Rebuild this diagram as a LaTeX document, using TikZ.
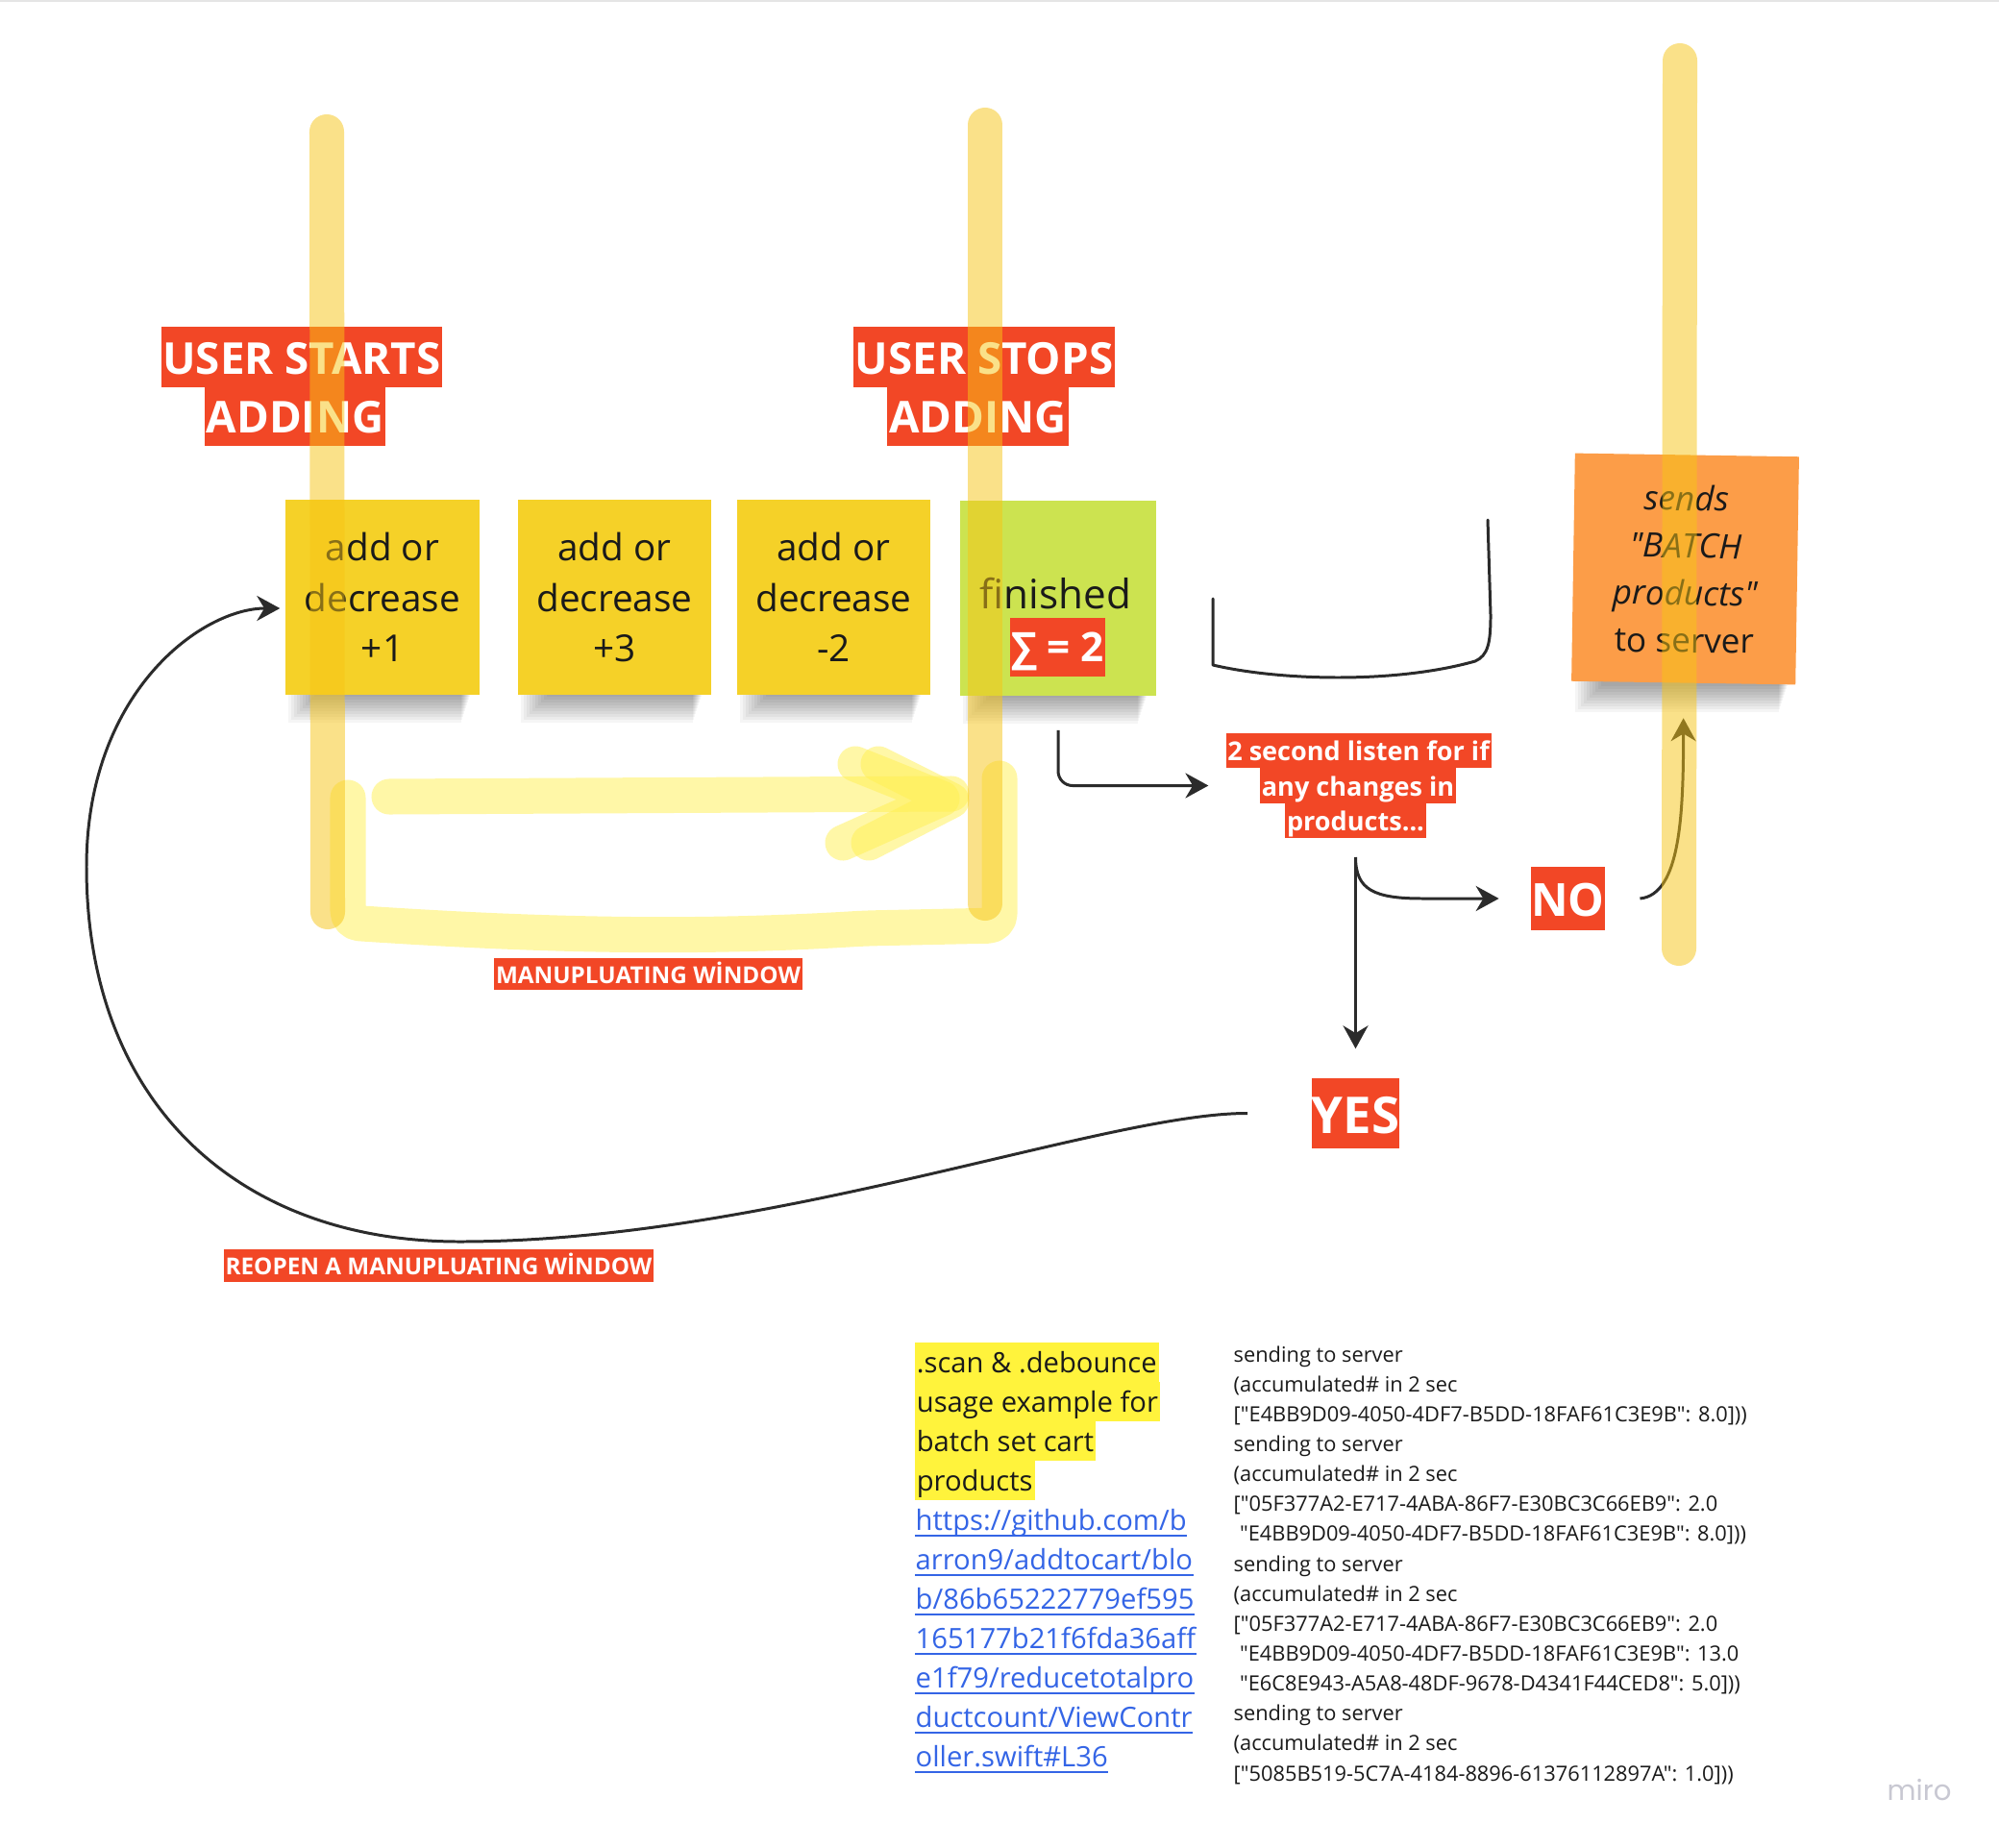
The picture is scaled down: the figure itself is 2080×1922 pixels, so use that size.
\documentclass[tikz,border=0pt]{standalone}
\usepackage{fontspec}
\setmainfont{Open Sans}[Ligatures=TeXOff]
\newfontfamily\mirofont{Poppins}
\usetikzlibrary{arrows.meta}

\definecolor{stickyY}{RGB}{245,209,40}
\definecolor{stickyG}{RGB}{204,227,80}
\definecolor{stickyO}{RGB}{252,157,72}
\definecolor{mred}{RGB}{242,71,38}
\definecolor{barY}{RGB}{247,197,21}
\definecolor{hlY}{RGB}{255,240,80}
\definecolor{hlText}{RGB}{255,243,60}
\definecolor{ink}{RGB}{26,26,26}
\definecolor{wire}{RGB}{43,43,43}
\definecolor{linkB}{RGB}{52,101,230}
\definecolor{wmark}{RGB}{200,200,210}

% soft shadow under the lower edge of a sticky note: left, right, bottom
\newcommand\stickyshadow[3]{%
  \foreach \k in {0,...,9}{%
    \fill[black, opacity=0.04] ({#1+30-3*\k},{#3-4}) rectangle ({#2-10-\k},{#3+2+3*\k});
  }}

\tikzset{
  sticky/.style={inner sep=0pt, align=center, text=ink},
  lbl/.style={fill=mred, text=white, inner xsep=0.5pt, inner ysep=0pt},
  lblA/.style={lbl, font=\bfseries\fontsize{13}{16}\selectfont, text height=13.9pt, text depth=3.8pt},
  lblB/.style={lbl, font=\bfseries\fontsize{7.7}{10}\selectfont, text height=8.2pt, text depth=2.2pt},
  lblC/.style={lbl, font=\bfseries\fontsize{6.9}{9}\selectfont, text height=7.4pt, text depth=2.0pt},
  conn/.style={draw=wire, line width=0.85pt, -{Stealth[length=6.8pt,width=7.4pt,inset=2.2pt]}},
  hl/.style={draw=hlY, opacity=0.5, line width=0.37cm, line cap=round, line join=round},
  bar/.style={draw=barY, opacity=0.5, line width=0.36cm, line cap=round},
  hltext/.style={fill=hlText, text=ink, font=\fontsize{8.3}{11.66}\selectfont, inner xsep=0.6pt, inner ysep=0pt, text height=8.8pt, text depth=2.9pt, anchor=base west},
  link/.style={text=linkB, font=\fontsize{8.3}{11.66}\selectfont, inner sep=0pt, anchor=base west},
  logtxt/.style={text=ink, font=\fontsize{6.2}{8.9}\selectfont, inner sep=0pt, anchor=base west},
}

\begin{document}
\begin{tikzpicture}[x=0.01cm, y=-0.01cm]
\fill[white] (0,0) rectangle (2080,1922);
\useasboundingbox (0,0) rectangle (2080,1922);
\draw[black!10, line width=0.6pt] (0,1) -- (2080,1);

% shadows of the sticky notes
\stickyshadow{297}{499}{723}
\stickyshadow{539}{740}{723}
\stickyshadow{767}{968}{723}
\stickyshadow{999}{1203}{724}
\stickyshadow{1636}{1870}{712}

% sticky notes
\node[sticky, fill=stickyY, minimum width=2.02cm, minimum height=2.03cm,
      font=\fontsize{11}{15}\selectfont] (s1) at (398,621.5) {add or\\decrease\\+1};
\node[sticky, fill=stickyY, minimum width=2.01cm, minimum height=2.03cm,
      font=\fontsize{11}{15}\selectfont] (s2) at (639.5,621.5) {add or\\decrease\\+3};
\node[sticky, fill=stickyY, minimum width=2.01cm, minimum height=2.03cm,
      font=\fontsize{11}{15}\selectfont] (s3) at (867.5,621.5) {add or\\decrease\\-2};
\node[sticky, fill=stickyG, minimum width=2.04cm, minimum height=2.03cm] (s4) at (1101,622.5) {};
\node[text=ink, font=\fontsize{12}{14}\selectfont, anchor=base, inner sep=0pt] (fin) at (1098.5,633) {finished};
\node[lbl, font=\bfseries\fontsize{12}{14}\selectfont, text height=13pt, text depth=4.35pt,
      minimum width=0.99cm, inner xsep=0pt] (sum) at (1100.5,673.5) {∑ = 2};
\node[sticky, fill=stickyO, minimum width=2.33cm, minimum height=2.37cm, rotate=-0.9,
      font=\fontsize{10}{14}\selectfont] (s5) at (1753.5,592)
      {\itshape sends\\\itshape "BATCH\\\itshape products"\\to server};

% open bracket drawn beside the finished note
\draw[wire, line width=0.85pt, line cap=round, line join=round]
  (1262,623) -- (1262,692) .. controls (1330,708) and (1450,712) .. (1535,688)
  .. controls (1548,682) and (1551,670) .. (1551,640) -- (1548,541);

% red labels
\node[lblA] (us1) at (314,371.5) {USER STARTS};
\node[lblA] (us2) at (307,433) {ADDING};
\node[lblA] (up1) at (1024,371.5) {USER STOPS};
\node[lblA] (up2) at (1017.5,433) {ADDING};
\node[lblB] (ls1) at (1413.5,781) {2 second listen for if};
\node[lblB] (ls2) at (1413,817.5) {any changes in};
\node[lblB] (ls3) at (1410.5,854) {products...};
\node[lblC] (mw) at (674.5,1013.5) {MANUPLUATING WİNDOW};
\node[lblC] (rw) at (456.5,1317) {REOPEN A MANUPLUATING WİNDOW};
\node[lbl, font=\bfseries\fontsize{13.5}{16}\selectfont, text height=14.6pt, text depth=4.2pt,
      minimum width=0.75cm, inner xsep=0pt] (no) at (1631.5,935) {NO};
\node[lbl, font=\bfseries\fontsize{15}{18}\selectfont, text height=16.3pt, text depth=4.5pt,
      minimum width=0.89cm, inner xsep=0pt] (yes) at (1410.5,1158.5) {YES};

% connectors
\draw[conn, rounded corners=0.15cm] ([yshift=-0.35cm]s4.south) |- ([xshift=-0.53cm]ls2.west);
\draw[conn] ([yshift=-0.19cm]ls3.south) -- ([yshift=0.30cm]yes.north);
\draw[conn] ([yshift=-0.19cm]ls3.south) .. controls +(0,34) and +(-50,0) .. (1480,935)
  -- ([xshift=-0.33cm]no.west);
\draw[conn] ([xshift=0.36cm]no.east) .. controls +(42,-4) and +(0,100) .. ([yshift=-0.36cm]s5.south);
\draw[conn] ([xshift=-0.66cm]yes.west) .. controls (1150,1158) and (800,1292) .. (478,1292)
  .. controls (250,1292) and (90,1150) .. (90,902)
  .. controls (90,720) and (210,633) .. ([xshift=-0.05cm,yshift=-0.115cm]s1.west);

% highlighter strokes: window and arrow
\draw[hl, rounded corners=0.12cm] (362,830) -- (362,960)
  .. controls (600,976) and (750,975) .. (900,966) -- (1040,963) -- (1040,810);
\draw[hl] (405,829) -- (990,826);
\draw[hl] (890,795) -- (980,831) -- (877,877);
\draw[hl] (914,795) -- (990,833) -- (904,877);

% timeline bars
\draw[bar] (340,137) -- (341,949);
\draw[bar] (1025,130) -- (1025,940);
\draw[bar] (1748,63) -- (1747,987);

% description, highlighted
\node[hltext] (hl1) at (951,1428) {.scan \& .debounce};
\node[hltext] (hl2) at (951,1469) {usage example for};
\node[hltext] (hl3) at (951,1510) {batch set cart};
\node[hltext] (hl4) at (951,1551) {products};

% link
\node[link] (lk1) at (952,1592) {https://github.com/b};
\node[link] (lk2) at (952,1633) {arron9/addtocart/blo};
\node[link] (lk3) at (952,1674) {b/86b65222779ef595};
\node[link] (lk4) at (952,1715) {165177b21f6fda36aff};
\node[link] (lk5) at (952,1756) {e1f79/reducetotalpro};
\node[link] (lk6) at (952,1797) {ductcount/ViewContr};
\node[link] (lk7) at (952,1838) {oller.swift\#L36};
\foreach \n in {lk1,lk2,lk3,lk4,lk5,lk6,lk7}
  \draw[linkB, line width=0.55pt] ([yshift=-1.6pt]\n.base west) -- ([yshift=-1.6pt]\n.base east);

% console output
\node[logtxt] (lg1)  at (1283,1417.0) {sending to server};
\node[logtxt] (lg2)  at (1283,1448.1) {(accumulated\# in 2 sec};
\node[logtxt] (lg3)  at (1283,1479.3) {["E4BB9D09-4050-4DF7-B5DD-18FAF61C3E9B": 8.0]))};
\node[logtxt] (lg4)  at (1283,1510.4) {sending to server};
\node[logtxt] (lg5)  at (1283,1541.6) {(accumulated\# in 2 sec};
\node[logtxt] (lg6)  at (1283,1572.7) {["05F377A2-E717-4ABA-86F7-E30BC3C66EB9": 2.0};
\node[logtxt] (lg7)  at (1283,1603.8) {\hspace*{1.8pt}"E4BB9D09-4050-4DF7-B5DD-18FAF61C3E9B": 8.0]))};
\node[logtxt] (lg8)  at (1283,1635.0) {sending to server};
\node[logtxt] (lg9)  at (1283,1666.1) {(accumulated\# in 2 sec};
\node[logtxt] (lg10) at (1283,1697.3) {["05F377A2-E717-4ABA-86F7-E30BC3C66EB9": 2.0};
\node[logtxt] (lg11) at (1283,1728.4) {\hspace*{1.8pt}"E4BB9D09-4050-4DF7-B5DD-18FAF61C3E9B": 13.0};
\node[logtxt] (lg12) at (1283,1759.6) {\hspace*{1.8pt}"E6C8E943-A5A8-48DF-9678-D4341F44CED8": 5.0]))};
\node[logtxt] (lg13) at (1283,1790.7) {sending to server};
\node[logtxt] (lg14) at (1283,1821.8) {(accumulated\# in 2 sec};
\node[logtxt] (lg15) at (1283,1853.0) {["5085B519-5C7A-4184-8896-61376112897A": 1.0]))};

% watermark
\node[font=\mirofont\fontsize{8.3}{10}\selectfont, text=wmark, anchor=base, inner sep=0pt] (wm) at (1997,1873) {miro};
\end{tikzpicture}
\end{document}
